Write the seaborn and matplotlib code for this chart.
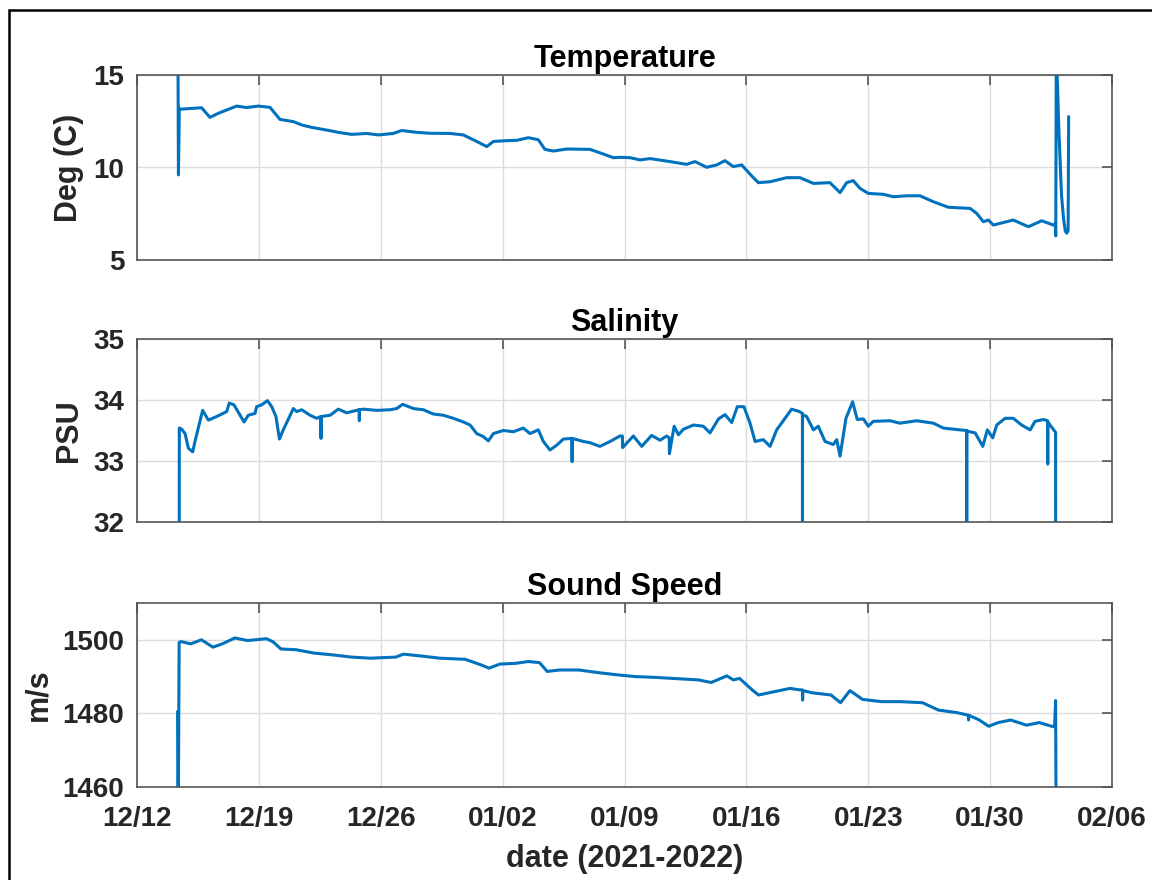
import numpy as np
import pandas as pd
import matplotlib
matplotlib.use("Agg")
import matplotlib.pyplot as plt
from matplotlib.patches import Rectangle
import seaborn as sns

# ---------------- data (days after 2021-12-12, value) ----------------
start_date = "2021-12-12"
tick_dates = ["12/12", "12/19", "12/26", "01/02", "01/09", "01/16", "01/23", "01/30", "02/06"]

temp_days = [2.35, 2.38, 2.43, 2.47, 3.71, 4.19, 4.67, 5.72, 6.30, 6.97, 7.64, 8.21, 8.98, 9.46,
             10.03, 11.09, 11.56, 12.33, 13.19, 13.86, 14.72, 15.20, 16.07, 16.83, 17.98, 18.74,
             19.51, 20.09, 20.47, 21.24, 21.81, 22.48, 23.05, 23.43, 23.91, 24.68, 26.02, 26.78,
             27.36, 27.74, 28.32, 28.89, 29.47, 30.61, 31.57, 32.05, 32.72, 33.30, 33.77, 34.25,
             34.73, 35.31, 35.69, 36.36, 37.32, 38.08, 38.85, 39.80, 40.38, 40.76, 41.14, 41.53,
             42.00, 42.87, 43.44, 44.21, 44.97, 45.74, 46.60, 47.85, 48.23, 48.61, 48.90, 49.19,
             49.57, 50.33, 51.20, 51.96, 52.63, 52.74, 52.77, 52.80, 52.95, 53.10, 53.22, 53.32,
             53.40, 53.48, 53.51]
temp_vals = [17.0, 9.6, 13.2, 13.15, 13.23, 12.71, 12.93, 13.32, 13.24, 13.32, 13.25, 12.60, 12.48,
             12.30, 12.17, 11.99, 11.90, 11.79, 11.84, 11.76, 11.84, 12.00, 11.90, 11.85, 11.84,
             11.76, 11.41, 11.13, 11.41, 11.45, 11.47, 11.61, 11.50, 10.98, 10.89, 11.00, 10.98,
             10.73, 10.53, 10.55, 10.53, 10.41, 10.48, 10.32, 10.17, 10.32, 10.01, 10.14, 10.37,
             10.05, 10.14, 9.54, 9.18, 9.23, 9.45, 9.45, 9.14, 9.18, 8.64, 9.18, 9.29, 8.87, 8.60,
             8.55, 8.42, 8.47, 8.47, 8.15, 7.85, 7.79, 7.52, 7.07, 7.16, 6.89, 6.98, 7.16, 6.80,
             7.12, 6.89, 6.95, 6.30, 16.5, 12.0, 8.5, 7.2, 6.55, 6.45, 6.60, 12.75]

sal_days = [2.40, 2.43, 2.57, 2.76, 2.95, 3.20, 3.33, 3.52, 3.77, 4.10, 4.58, 5.15, 5.30, 5.57,
            5.92, 6.15, 6.39, 6.78, 6.87, 7.16, 7.49, 7.74, 7.98, 8.18, 8.40, 8.98, 9.17, 9.46,
            9.94, 10.32, 10.56, 10.57, 10.58, 11.09, 11.56, 12.04, 12.76, 12.77, 12.78, 13.00,
            13.77, 14.53, 14.92, 15.26, 15.87, 16.45, 17.02, 17.60, 18.17, 18.74, 19.13, 19.51,
            19.89, 20.18, 20.47, 21.04, 21.62, 22.19, 22.57, 23.05, 23.34, 23.72, 24.11, 24.49,
            24.98, 24.99, 25.00, 25.64, 26.02, 26.59, 27.17, 27.74, 27.88, 27.89, 28.51, 28.99,
            29.56, 30.04, 30.42, 30.57, 30.58, 30.85, 31.10, 31.38, 31.96, 32.53, 32.91, 33.40,
            33.77, 34.16, 34.48, 34.86, 35.21, 35.50, 35.97, 36.36, 36.74, 37.22, 37.60, 38.05,
            38.22, 38.222, 38.225, 38.46, 38.85, 39.13, 39.52, 39.99, 40.19, 40.38, 40.72, 41.10,
            41.37, 41.72, 42.00, 42.29, 43.25, 43.82, 44.78, 45.74, 46.31, 47.27, 47.65, 47.66,
            47.662, 47.665, 48.14, 48.58, 48.84, 49.15, 49.38, 49.86, 50.33, 50.81, 51.30, 51.58,
            52.06, 52.30, 52.31, 52.32, 52.44, 52.76, 52.78]
sal_vals = [20.0, 33.54, 33.52, 33.45, 33.21, 33.15, 33.32, 33.54, 33.83, 33.67, 33.73, 33.81,
            33.95, 33.92, 33.75, 33.64, 33.75, 33.78, 33.89, 33.92, 33.99, 33.89, 33.73, 33.36,
            33.51, 33.86, 33.81, 33.84, 33.75, 33.70, 33.73, 33.37, 33.73, 33.75, 33.85, 33.79,
            33.84, 33.66, 33.84, 33.85, 33.83, 33.84, 33.86, 33.93, 33.86, 33.84, 33.77, 33.75,
            33.70, 33.64, 33.59, 33.45, 33.40, 33.33, 33.45, 33.50, 33.48, 33.54, 33.45, 33.51,
            33.32, 33.18, 33.26, 33.36, 33.37, 32.99, 33.37, 33.32, 33.30, 33.24, 33.32, 33.41,
            33.41, 33.22, 33.41, 33.24, 33.42, 33.34, 33.41, 33.38, 33.12, 33.57, 33.43, 33.52,
            33.59, 33.57, 33.46, 33.69, 33.76, 33.63, 33.89, 33.89, 33.62, 33.32, 33.35, 33.24,
            33.51, 33.70, 33.85, 33.81, 33.78, 20.0, 33.76, 33.73, 33.51, 33.57, 33.32, 33.27,
            33.35, 33.08, 33.70, 33.97, 33.68, 33.69, 33.57, 33.65, 33.66, 33.62, 33.66, 33.62,
            33.54, 33.51, 33.50, 20.0, 33.50, 33.49, 33.46, 33.24, 33.51, 33.38, 33.59, 33.70,
            33.70, 33.59, 33.51, 33.65, 33.68, 33.66, 32.95, 33.64, 33.59, 33.47, 20.0]

ss_days = [2.33, 2.36, 2.42, 2.54, 3.09, 3.70, 4.36, 4.90, 5.62, 6.35, 7.43, 7.80, 8.27, 9.14,
           10.15, 11.24, 12.33, 13.41, 14.86, 15.30, 16.31, 17.40, 18.85, 19.75, 20.22, 20.84,
           21.75, 22.47, 23.12, 23.56, 24.28, 25.37, 26.46, 27.54, 28.63, 29.72, 30.80, 31.53,
           32.25, 32.98, 33.88, 34.25, 34.61, 35.33, 35.70, 36.60, 37.51, 38.05, 38.22, 38.23,
           38.25, 38.78, 39.86, 40.41, 40.95, 41.67, 42.76, 43.85, 45.12, 46.03, 47.11, 47.75,
           47.76, 47.78, 48.38, 48.92, 49.46, 50.18, 51.09, 51.82, 52.54, 52.70, 52.76, 52.80]
ss_vals = [1480.5, 1440.0, 1499.3, 1499.5, 1498.9, 1500.0, 1498.0, 1498.9, 1500.5, 1499.8, 1500.3,
           1499.5, 1497.5, 1497.3, 1496.4, 1495.9, 1495.3, 1495.0, 1495.3, 1496.1, 1495.6, 1495.0,
           1494.7, 1493.2, 1492.3, 1493.4, 1493.6, 1494.1, 1493.8, 1491.4, 1491.8, 1491.8, 1491.1,
           1490.5, 1490.0, 1489.8, 1489.5, 1489.3, 1489.1, 1488.4, 1490.2, 1489.1, 1489.5, 1486.4,
           1485.0, 1485.9, 1486.8, 1486.4, 1486.4, 1483.6, 1486.2, 1485.6, 1485.0, 1482.9, 1486.2,
           1483.8, 1483.2, 1483.2, 1482.9, 1480.9, 1480.2, 1479.5, 1478.2, 1479.5, 1478.2, 1476.5,
           1477.5, 1478.2, 1476.8, 1477.5, 1476.5, 1476.4, 1483.5, 1440.0]

titles = ["Temperature", "Salinity", "Sound Speed"]
ylabels = ["Deg (C)", "PSU", "m/s"]
ylims = [(5, 15), (32, 35), (1460, 1510)]
yticks = [[5, 10, 15], [32, 33, 34, 35], [1460, 1480, 1500]]
xlabel = "date (2021-2022)"

# ---------------- plotting ----------------
sns.set_style("white")
plt.rcParams["font.family"] = ["Liberation Sans", "DejaVu Sans"]
plt.rcParams["font.weight"] = "bold"

W, H = 1152, 880
fig = plt.figure(figsize=(W / 100, H / 100), dpi=100)
fig.patch.set_facecolor("white")

# axes boxes in pixels: (left, top, right, bottom)
boxes = [(137, 75, 1112, 260), (137, 339, 1112, 522), (137, 603, 1112, 787)]
ylabel_x = [69, 69, 38]   # pixel centre of y-labels

base = pd.Timestamp(start_date)
def to_dates(days):
    return base + pd.to_timedelta(np.array(days), unit="D")

series = [(temp_days, temp_vals), (sal_days, sal_vals), (ss_days, ss_vals)]
xticks = pd.date_range(start_date, periods=len(tick_dates), freq="7D")
blue = "#0072BD"
ink = "#262626"

for i, ((dd, vv), box) in enumerate(zip(series, boxes)):
    l, t, r, b = box
    ax = fig.add_axes([l / W, 1 - b / H, (r - l) / W, (b - t) / H])
    df = pd.DataFrame({"date": to_dates(dd), "value": vv})
    sns.lineplot(data=df, x="date", y="value", ax=ax, color=blue, linewidth=2.2,
                 sort=False, estimator=None)
    ax.set_xlim(xticks[0], xticks[-1])
    ax.set_ylim(*ylims[i])
    ax.set_yticks(yticks[i])
    ax.set_xticks(xticks)
    if i == 2:
        ax.set_xticklabels(tick_dates)
        ax.set_xlabel(xlabel, fontsize=22, fontweight="bold", color=ink, labelpad=8)
    else:
        ax.set_xticklabels([])
        ax.set_xlabel("")
    ax.set_ylabel(ylabels[i], fontsize=22, fontweight="bold", color=ink)
    ax.yaxis.label.set_verticalalignment("center")
    ax.yaxis.set_label_coords((ylabel_x[i] - l) / (r - l), 0.5)
    ax.set_title(titles[i], fontsize=22, fontweight="bold", color="black", pad=6)
    ax.grid(True, color="#dcdcdc", linewidth=1.0)
    ax.set_axisbelow(True)
    for s in ax.spines.values():
        s.set_visible(True)
        s.set_color("#555555")
        s.set_linewidth(1.2)
    ax.tick_params(axis="both", which="major", direction="in", length=7, width=1.2,
                   color="#555555", top=True, right=True, labelsize=20,
                   labelcolor=ink)
    ax.tick_params(axis="y", pad=9)
    ax.tick_params(axis="x", pad=14)
    for lab in ax.get_xticklabels() + ax.get_yticklabels():
        lab.set_fontweight("bold")

# figure frame (partially cut off on right/bottom)
fig.patches.append(Rectangle((9 / W, -0.1), 1.2, (H - 10) / H + 0.1,
                             transform=fig.transFigure, fill=False,
                             edgecolor="black", linewidth=1.8, clip_on=False))

fig.savefig("out.png", dpi=100)
